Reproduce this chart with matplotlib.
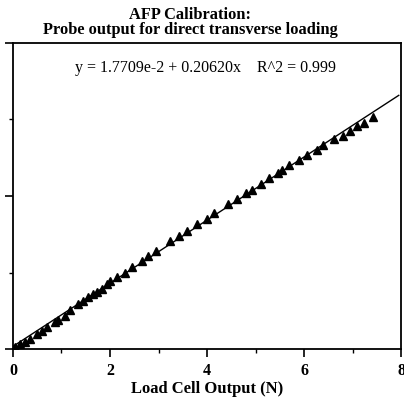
import numpy as np
import matplotlib.pyplot as plt
from matplotlib.ticker import MultipleLocator, NullFormatter

plt.rcParams['font.family'] = ['Liberation Serif', 'DejaVu Serif']

# measured points (load cell N, probe output)
load = [0.04, 0.14, 0.25, 0.35, 0.49, 0.60, 0.70, 0.87, 0.93, 1.07,
        1.18, 1.34, 1.44, 1.55, 1.65, 1.73, 1.84, 1.94, 2.00, 2.14,
        2.31, 2.45, 2.66, 2.78, 2.95, 3.24, 3.42, 3.59, 3.79, 4.00,
        4.14, 4.43, 4.62, 4.80, 4.93, 5.11, 5.28, 5.46, 5.55, 5.69,
        5.90, 6.06, 6.27, 6.39, 6.62, 6.80, 6.95, 7.09, 7.24, 7.42]
probe = [0.013, 0.033, 0.046, 0.065, 0.098, 0.118, 0.144, 0.176, 0.190, 0.216,
         0.255, 0.294, 0.314, 0.340, 0.359, 0.373, 0.392, 0.425, 0.444, 0.471,
         0.497, 0.536, 0.575, 0.608, 0.641, 0.706, 0.739, 0.771, 0.817, 0.850,
         0.889, 0.948, 0.980, 1.020, 1.039, 1.078, 1.118, 1.150, 1.170, 1.203,
         1.235, 1.268, 1.301, 1.333, 1.373, 1.392, 1.425, 1.458, 1.477, 1.516]

intercept = 1.7709e-2
slope = 0.20620
fit_x = [0.0, 7.95]

fig = plt.figure(figsize=(4.04, 4.02), dpi=100)
ax = fig.add_axes([0.032, 0.129, 0.961, 0.762])

ax.plot(load, probe, '^', color='black', markersize=5.5, linestyle='none')
fx = np.array(fit_x)
ax.plot(fx, intercept + slope * fx, color='black', linewidth=1.0)

ax.set_xlim(0, 8)
ax.set_ylim(0, 2)
ax.xaxis.set_major_locator(MultipleLocator(2))
ax.xaxis.set_minor_locator(MultipleLocator(1))
ax.yaxis.set_major_locator(MultipleLocator(1))
ax.yaxis.set_minor_locator(MultipleLocator(0.5))
ax.yaxis.set_major_formatter(NullFormatter())
ax.tick_params(which='major', direction='out', length=6, width=1.2)
ax.tick_params(which='minor', direction='out', length=3, width=1.0)
for lab in ax.get_xticklabels():
    lab.set_fontweight('bold')
    lab.set_fontsize(11.5)
for s in ax.spines.values():
    s.set_linewidth(1.3)

ax.set_xlabel('Load Cell Output (N)', fontweight='bold', fontsize=12, labelpad=1)
ax.text(3.96, 1.84, 'y = 1.7709e-2 + 0.20620x    R^2 = 0.999',
        ha='center', va='center', fontsize=11.5)

fig.text(0.47, 0.983, 'AFP Calibration:\nProbe output for direct transverse loading',
         ha='center', va='top', fontweight='bold', fontsize=11.8, linespacing=0.95)

fig.savefig('out.png', dpi=100)
